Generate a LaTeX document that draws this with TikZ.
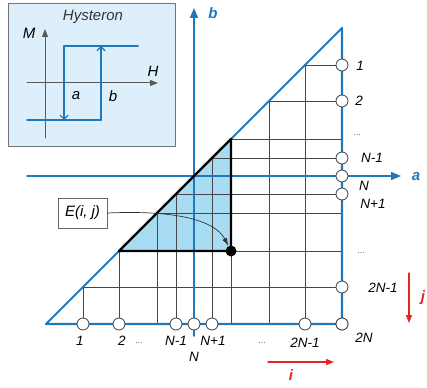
\documentclass[tikz,border=0pt]{standalone}
\usepackage{fontspec}
\setmainfont{Liberation Sans}
\usetikzlibrary{arrows.meta}

\definecolor{axisblue}{HTML}{1E78BE}
\definecolor{shadeblue}{HTML}{A8DCF2}
\definecolor{insetblue}{HTML}{DDEFFA}
\definecolor{markred}{HTML}{E52521}

\begin{document}
\begin{tikzpicture}[x=1pt, y=-1pt, line cap=round, line join=round,
  gridline/.style={draw=black!72, line width=0.7pt},
  edgeblue/.style={draw=axisblue, line width=2.1pt},
  axisarrow/.style={draw=axisblue, line width=1.6pt, -{Triangle[length=10pt,width=8pt]}},
  ring/.style={circle, draw=black!75, fill=white, line width=0.8pt, inner sep=0pt, minimum size=12pt},
  lbl/.style={inner sep=0pt, font=\fontsize{13.5}{15}\selectfont\itshape},
  biglbl/.style={inner sep=0pt, font=\fontsize{15}{17}\selectfont\itshape},
  dots/.style={inner sep=0pt, text=black!60, font=\fontsize{9}{10}\selectfont},
  loopline/.style={draw=axisblue, line width=1.6pt},
  barb/.style={-{Straight Barb[length=4pt,width=8pt,line width=1.2pt]}},
  redarrow/.style={draw=markred, line width=1.2pt, -{Triangle[length=8pt,width=6pt]}}]

  %% ════ hysteron inset ════
  \node[draw=black!55, fill=insetblue, line width=0.8pt, minimum width=167pt, minimum height=143pt, inner sep=0pt] (inset) at (91.5,74.5) {};
  \node[biglbl, text=black!80] (hyst) at (93,17) {Hysteron};
  \coordinate (mfoot) at (45,138);
  \coordinate (mtip)  at (45,29);
  \coordinate (hfoot) at (27,83);
  \coordinate (htip)  at (158,83);
  \draw[black!65, line width=1pt, -{Triangle[length=8pt,width=6pt]}] (mfoot) -- (mtip);
  \draw[black!65, line width=1pt, -{Triangle[length=8pt,width=6pt]}] (hfoot) -- (htip);
  \node[biglbl] (mlbl) at (29,33) {M};
  \node[biglbl] (hlbl) at (153,71) {H};
  \coordinate (upR) at (138,46);
  \coordinate (upA) at (64,46);
  \coordinate (loA) at (64,120);
  \coordinate (loL) at (27,120);
  \coordinate (loB) at (101,120);
  \coordinate (upB) at (101,46);
  \draw[loopline] (upR) -- (upA);
  \draw[loopline, barb] (upA) -- (loA);
  \draw[loopline] (loL) -- (loB);
  \draw[loopline, barb] (loB) -- (upB);
  \node[biglbl] (albl) at (76,96) {a};
  \node[biglbl] (blbl) at (113,96) {b};

  %% ════ shaded element ════
  \coordinate (sLeft) at (119,251);
  \coordinate (sTop)  at (231,139);
  \coordinate (sCorner) at (231,251);
  \fill[shadeblue] (sLeft) -- (sTop) -- (sCorner) -- cycle;

  %% ════ grid (i columns, j rows) ════
  \foreach \x [count=\k] in {83,119,157,176,194,212,231,269,305,342} {
    \coordinate (top\k) at (\x,{370-\x});
    \coordinate (bot\k) at (\x,324);
    \coordinate (lft\k) at ({388-\x},{\x-18});
    \coordinate (rgt\k) at (342,{\x-18});
    \draw[gridline] (top\k) -- (bot\k);
    \draw[gridline] (lft\k) -- (rgt\k);
  }

  %% ════ axes a, b ════
  \coordinate (aFrom) at (27,176);
  \coordinate (aTo)   at (401,176);
  \coordinate (bFrom) at (194,336);
  \coordinate (bTo)   at (194,8);
  \draw[axisarrow] (aFrom) -- (aTo);
  \draw[axisarrow] (bFrom) -- (bTo);
  \node[biglbl, text=axisblue, font=\fontsize{15}{17}\selectfont\bfseries\itshape] (alabel) at (416,177) {a};
  \node[biglbl, text=axisblue, font=\fontsize{15}{17}\selectfont\bfseries\itshape] (blabel) at (213,13) {b};

  %% ════ Preisach triangle ════
  \coordinate (vLeft)  at (46,324);
  \coordinate (vApex)  at (342,28);
  \coordinate (vRight) at (342,324);
  \draw[edgeblue] (vLeft) -- (vApex) -- (vRight) -- cycle;
  \draw[line width=2.4pt] (sLeft) -- (sTop) -- (sCorner) -- cycle;

  %% ════ index rings ════
  \foreach \k in {1,2,4,5,6,9,10} {
    \node[ring] (ci\k) at (bot\k) {};
    \node[ring] (cj\k) at (rgt\k) {};
  }
  \node[circle, fill=black, inner sep=0pt, minimum size=11pt] (edot) at (sCorner) {};

  %% ════ i labels ════
  \node[lbl] (i1)  at (80,341)  {1};
  \node[lbl] (i2)  at (122,341) {2};
  \node[dots] (i3) at (139,343) {...};
  \node[lbl] (i4)  at (176,341) {N-1};
  \node[lbl] (i5)  at (194,357) {N};
  \node[lbl] (i6)  at (213,341) {N+1};
  \node[dots] (i8) at (262,343) {...};
  \node[lbl] (i9)  at (305,343) {2N-1};
  \node[lbl] (i10) at (364,338) {2N};

  %% ════ j labels ════
  \node[lbl] (j1) at (360,66)  {1};
  \node[lbl] (j2) at (359,101) {2};
  \node[dots] (j3) at (357,135) {...};
  \node[lbl] (j4) at (372,158) {N-1};
  \node[lbl] (j5) at (364,186) {N};
  \node[lbl] (j6) at (373,204) {N+1};
  \node[dots] (j8) at (361,253) {...};
  \node[lbl] (j9) at (383,288) {2N-1};

  %% ════ E(i, j) callout ════
  \node[draw=black!60, fill=white, line width=0.8pt, minimum width=49pt, minimum height=30pt, inner sep=0pt, font=\fontsize{15}{17}\selectfont\itshape] (ebox) at (82.5,213) {E(i, j)};
  \draw[black!80, line width=0.7pt, -{Latex[length=8pt,width=5pt]}] (ebox.east) .. controls (175,210) and (215,220) .. (edot);

  %% ════ direction arrows i, j ════
  \coordinate (jtail) at (409,273);
  \coordinate (jhead) at (409,323);
  \coordinate (itail) at (268,362);
  \coordinate (ihead) at (334,362);
  \draw[redarrow] (jtail) -- (jhead);
  \draw[redarrow] (itail) -- (ihead);
  \node[biglbl, text=markred, font=\fontsize{15}{17}\selectfont\bfseries\itshape] (jlabel) at (423,298) {j};
  \node[biglbl, text=markred, font=\fontsize{15}{17}\selectfont\bfseries\itshape] (ilabel) at (291,375) {i};

  \pgfresetboundingbox
  \path[use as bounding box] (0,0) rectangle (427,387);
\end{tikzpicture}
\end{document}
